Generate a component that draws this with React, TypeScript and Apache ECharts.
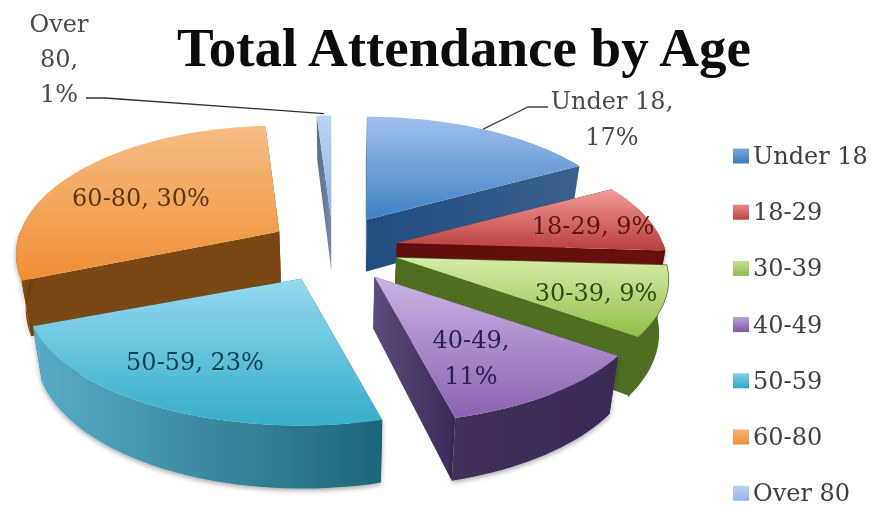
import React, { useEffect, useRef } from "react";
import * as echarts from "echarts";

const categories = ["Under 18", "18-29", "30-39", "40-49", "50-59", "60-80", "Over 80"];
const percents = [17, 9, 9, 11, 23, 30, 1];

// Layout of the projected pie
const CX = 336, CY = 249, A = 270, B = 121, K = 0.176, DEPTH = 52, BASE_SCALE = 0.97, EXPLODE = 0.22;
const explodeFactor = [1.15, 1.05, 1.07, 1.12, 1.25, 1.15, 1.0];
const apexNudge = [[-4, -3], [0, 0], [1, -1], [1, 3], [-1, 0], [1, -1], [-3, -4]];
const radiusX = [0.975, 0.985, 0.99, 1, 1, 0.96, 1];
const radiusY = [1, 1, 1, 1, 1, 1.03, 1];
const wallShadow = [true, true, false, true, true, true, true];
const sealSeams = [false, false, true, false, false, false, false];
const paintOrder = [6, 0, 5, 1, 2, 3, 4];
const FONT = "'DejaVu Serif'";

const topColors = [
  ["#9fc0ee", "#3f80c4"], ["#f29c98", "#b93e3b"], ["#d6eca8", "#93bd48"], ["#c8b3e4", "#8a62b2"],
  ["#96d9f0", "#35adca"], ["#f7bd85", "#ef8f34"], ["#bcd2f6", "#93b3ea"],
];
const legendColors = [
  ["#7ba6e0", "#3f78b8"], ["#ea8582", "#b84340"], ["#c4e08e", "#93b94e"], ["#b79fd8", "#7f5ba6"],
  ["#7fd2ea", "#2fa6c4"], ["#f6b274", "#ee8f3a"], ["#bcd2f6", "#93b3ea"],
];
const wallColors = [
  ["#2c5687", "#234a78"], ["#7a1414", "#5f0d0d"], ["#4f6e22", "#4f6e22"], ["#403058", "#3a2a58"],
  ["#58acc8", "#1d6679"], ["#8a5418", "#774511"], ["#7085a8", "#56698c"],
];
const cutColors = [
  ["#1f4d80", "#3a628e"], ["#5f0d0d", "#6a1010"], ["#4f6e22", "#4f6e22"], ["#5e4c7c", "#3a2a58"],
  ["#1d6679", "#1d6679"], ["#7a4814", "#7a4814"], ["#5a6c8c", "#7a8aa8"],
];
const textColors = ["#4a4a4a", "#5a1512", "#2f4a18", "#2a2050", "#123f55", "#5a3410", "#4a4a4a"];

const labelText = ["Under 18,\n17%", "18-29, 9%", "30-39, 9%", "40-49,\n11%", "50-59, 23%", "60-80, 30%", "Over\n80,\n1%"];
const labelCenter: number[][] = [
  [612, 119], [593, 226], [596, 293], [471, 358], [195, 362], [141, 198], [59, 59],
];

const rad = (d: number) => (d * Math.PI) / 180;
const total = percents.reduce((a, b) => a + b, 0);
const startAngles: number[] = [];
percents.reduce((acc, v, i) => { startAngles[i] = (acc / total) * 360; return acc + v; }, 0);
const endAngle = (i: number) => startAngles[i] + (percents[i] / total) * 360;

const apex = (i: number) => {
  const m = rad((startAngles[i] + endAngle(i)) / 2);
  const e = EXPLODE * explodeFactor[i];
  return [CX + A * e * Math.sin(m) + apexNudge[i][0], CY - B * e * Math.cos(m) + apexNudge[i][1]];
};
const project = (i: number, r: number, deg: number) => {
  const [ax, ay] = apex(i);
  const X = r * Math.sin(rad(deg));
  const Y = r * Math.cos(rad(deg));
  const w = 1 + K * Y;
  return [ax + (A * radiusX[i] * X) / w, ay - (B * radiusY[i] * Y) / w, w];
};
const lower = (p: number[]) => [CX + (p[0] - CX) * BASE_SCALE, p[1] + DEPTH / p[2]];
const grad = (c: string[], h = false) =>
  new echarts.graphic.LinearGradient(0, 0, h ? 1 : 0, h ? 0 : 1, [
    { offset: 0, color: c[0] },
    { offset: 1, color: c[1] },
  ]);

function renderSlice(i: number) {
  const s = startAngles[i];
  const e = endAngle(i);
  const arc: number[][] = [];
  const front: number[][] = [];
  const steps = Math.max(2, Math.ceil((e - s) / 2));
  for (let n = 0; n <= steps; n++) {
    const deg = s + ((e - s) * n) / steps;
    const p = project(i, 1, deg);
    arc.push(p);
    if (Math.cos(rad(deg)) < 0.02) front.push(p);
  }
  const c = project(i, 0, 0);
  const cB = lower(c);
  const poly = (points: number[][], fill: any, extra: any = {}) => ({
    type: "polygon",
    shape: { points: points.map((p) => [p[0], p[1]]) },
    style: { fill, ...extra },
  });
  const seal = sealSeams[i] ? { stroke: wallColors[i][1], lineWidth: 1.5 } : {};
  const children: any[] = [
    poly([c, arc[0], lower(arc[0]), cB], grad(cutColors[i], true), seal),
    poly([c, arc[arc.length - 1], lower(arc[arc.length - 1]), cB], grad(cutColors[i], true), seal),
  ];
  if (front.length > 1) {
    const shade = wallShadow[i]
      ? { shadowBlur: 5, shadowColor: "rgba(0,0,0,0.35)", shadowOffsetY: 2 }
      : {};
    children.push(poly(front.concat(front.map(lower).reverse()), grad(wallColors[i], true), { ...shade, ...seal }));
  }
  children.push(poly([c, ...arc], grad(topColors[i])));
  return children;
}

function renderLabel(i: number) {
  const children: any[] = [];
  const m = (startAngles[i] + endAngle(i)) / 2;
  const end = project(i, 1, m);
  if (i === 0) {
    children.push({
      type: "polyline",
      shape: { points: [[end[0], end[1]], [528, 107], [548, 107]] },
      style: { fill: "none", stroke: "#404040", lineWidth: 1.3 },
    });
  }
  if (i === 6) {
    children.push({
      type: "polyline",
      shape: { points: [[86, 98], [105, 98], [end[0], end[1] - 2]] },
      style: { fill: "none", stroke: "#303030", lineWidth: 1.3 },
    });
  }
  children.push({
    type: "text",
    style: {
      text: labelText[i],
      x: labelCenter[i][0],
      y: labelCenter[i][1],
      align: "center",
      verticalAlign: "middle",
      fontFamily: FONT,
      fontSize: 24,
      lineHeight: i === 6 ? 35 : 36,
      fill: textColors[i],
    },
  });
  return children;
}

export default function App() {
  const ref = useRef<HTMLDivElement>(null);
  useEffect(() => {
    document.body.style.margin = "0";
    const chart = echarts.init(ref.current!, undefined, { renderer: "svg" });
    const sliceSeries = paintOrder.map((i, order) => ({
      type: "custom",
      name: categories[i],
      coordinateSystem: "none",
      silent: true,
      z: 2 + order,
      itemStyle: { color: grad(legendColors[i]) },
      data: [[percents[i]]],
      renderItem: () => ({ type: "group", children: renderSlice(i) }),
    }));
    const labelSeries = paintOrder.map((i) => ({
      type: "custom",
      name: "label " + categories[i],
      coordinateSystem: "none",
      silent: true,
      z: 20,
      data: [[percents[i]]],
      renderItem: () => ({ type: "group", children: renderLabel(i) }),
    }));
    chart.setOption({
      animation: false,
      backgroundColor: "#ffffff",
      title: {
        text: "Total Attendance by Age",
        left: 459,
        top: 15,
        textAlign: "center",
        textStyle: { fontFamily: "'Liberation Serif'", fontWeight: "bold", fontSize: 55, color: "#0c0c0c" },
      },
      legend: {
        data: categories,
        orient: "vertical",
        left: 728,
        top: 137,
        height: 368,
        padding: [5, 0, 0, 5],
        itemWidth: 16,
        itemHeight: 15,
        itemGap: 28.2,
        icon: "rect",
        selectedMode: false,
        textStyle: { fontFamily: FONT, fontSize: 24, color: "#404040", padding: [0, 0, 0, -1], height: 28, lineHeight: 28 },
      },
      series: [...sliceSeries, ...labelSeries],
    });
    return () => chart.dispose();
  }, []);
  return (
    <div
      ref={ref}
      style={{ position: "absolute", left: 0, top: 0, width: 872, height: 506, filter: "blur(0.5px)" }}
    />
  );
}
